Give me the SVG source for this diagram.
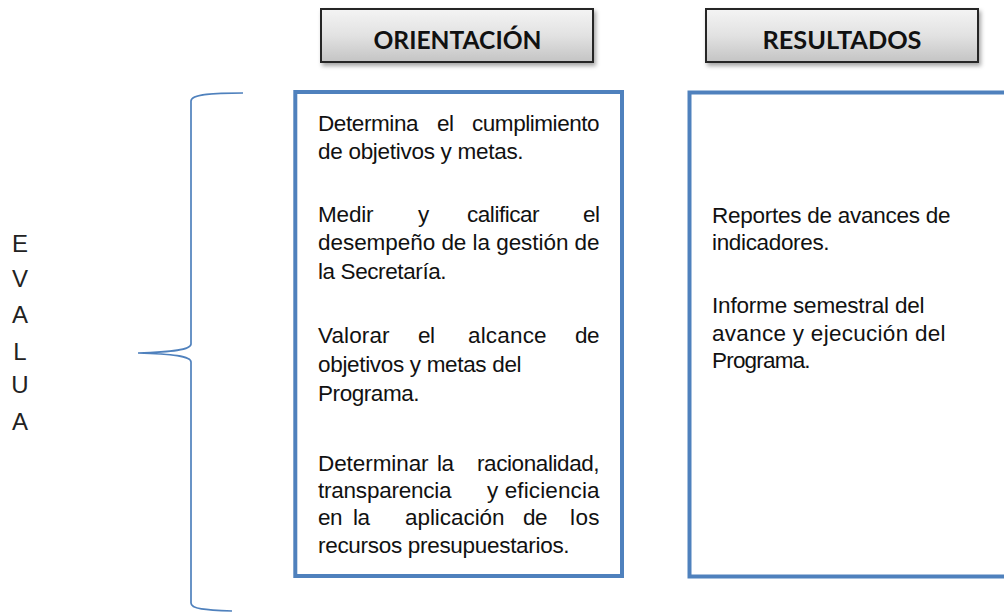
<svg xmlns="http://www.w3.org/2000/svg" width="1004" height="612" viewBox="0 0 1004 612">
<defs>
<linearGradient id="hdrGrad" x1="0" y1="0" x2="0" y2="1">
<stop offset="0" stop-color="#f4f4f4"/>
<stop offset="0.5" stop-color="#e2e2e2"/>
<stop offset="1" stop-color="#c4c4c4"/>
</linearGradient>
<filter id="shadow" x="-10%" y="-20%" width="125%" height="160%">
<feDropShadow dx="2" dy="3" stdDeviation="2" flood-color="#000" flood-opacity="0.35"/>
</filter>
</defs>
<style>
.hdr{fill:url(#hdrGrad);stroke:#262626;stroke-width:2}
.hdrt{font-family:"Lato","Liberation Sans",sans-serif;font-weight:bold;font-size:24px;fill:#111;text-anchor:middle}
.box{fill:#fff;stroke:#4f81bd;stroke-width:4}
.t{font-family:"Liberation Sans",Arial,sans-serif;font-size:22.5px;fill:#111;letter-spacing:-0.6px}
.ev{font-family:"Liberation Sans",Arial,sans-serif;font-size:24px;fill:#222;text-anchor:middle}
.brace{fill:none;stroke:#4f81bd;stroke-width:1.7}
</style>
<rect width="1004" height="612" fill="#fff"/>

<g id="evalua">
<text class="ev" x="20" y="252">E</text>
<text class="ev" x="20" y="287">V</text>
<text class="ev" x="20" y="323">A</text>
<text class="ev" x="20" y="360">L</text>
<text class="ev" x="20" y="393">U</text>
<text class="ev" x="20" y="430">A</text>
</g>

<g id="connectors">
<path class="brace" d="M243,93 C215,93 191,94 191,101 L191,344 C191,350 172,352 138,353 C172,354 191,356 191,362 L191,603 C191,609 205,610 232,611"/>
</g>

<g id="hdr-orientacion">
<rect class="hdr" x="321" y="9" width="272" height="53" filter="url(#shadow)"/>
<text class="hdrt" x="457.5" y="49" textLength="168" lengthAdjust="spacingAndGlyphs">ORIENTACIÓN</text>
</g>

<g id="hdr-resultados">
<rect class="hdr" x="706" y="9" width="272" height="53" filter="url(#shadow)"/>
<text class="hdrt" x="842" y="49" textLength="159" lengthAdjust="spacingAndGlyphs">RESULTADOS</text>
</g>

<g id="box-orientacion">
<rect class="box" x="295.3" y="92" width="326.7" height="484"/>
<text class="t" x="318" y="131" textLength="100">Determina</text>
<text class="t" x="437" y="131">el</text>
<text class="t" x="472" y="131" textLength="127">cumplimiento</text>
<text class="t" x="318" y="159" textLength="205">de objetivos y metas.</text>

<text class="t" x="318" y="222" textLength="55">Medir</text>
<text class="t" x="418" y="222">y</text>
<text class="t" x="467" y="222" textLength="72">calificar</text>
<text class="t" x="583" y="222">el</text>
<text class="t" x="318" y="250" textLength="281">desempeño de la gestión de</text>
<text class="t" x="318" y="279" textLength="128">la Secretaría.</text>

<text class="t" x="318" y="343" textLength="71">Valorar</text>
<text class="t" x="418" y="343">el</text>
<text class="t" x="468" y="343" textLength="78">alcance</text>
<text class="t" x="575" y="343">de</text>
<text class="t" x="318" y="372" textLength="203">objetivos y metas del</text>
<text class="t" x="318" y="401" textLength="101">Programa.</text>

<text class="t" x="318" y="471" textLength="110">Determinar</text>
<text class="t" x="437" y="471">la</text>
<text class="t" x="477" y="471" textLength="122">racionalidad,</text>
<text class="t" x="318" y="498" textLength="133">transparencia</text>
<text class="t" x="487" y="498" textLength="112">y eficiencia</text>
<text class="t" x="318" y="525">en</text>
<text class="t" x="353" y="525">la</text>
<text class="t" x="405" y="525" textLength="99">aplicación</text>
<text class="t" x="523" y="525">de</text>
<text class="t" x="570" y="525" textLength="29">los</text>
<text class="t" x="318" y="553" textLength="251">recursos presupuestarios.</text>
</g>

<g id="box-resultados">
<rect class="box" x="689.5" y="92.5" width="320" height="484"/>
<text class="t" x="712" y="223" textLength="238">Reportes de avances de</text>
<text class="t" x="712" y="250" textLength="117">indicadores.</text>
<text class="t" x="712" y="313" textLength="212">Informe semestral del</text>
<text class="t" x="712" y="341" textLength="233">avance y ejecución del</text>
<text class="t" x="712" y="368" textLength="98">Programa.</text>
</g>
</svg>
